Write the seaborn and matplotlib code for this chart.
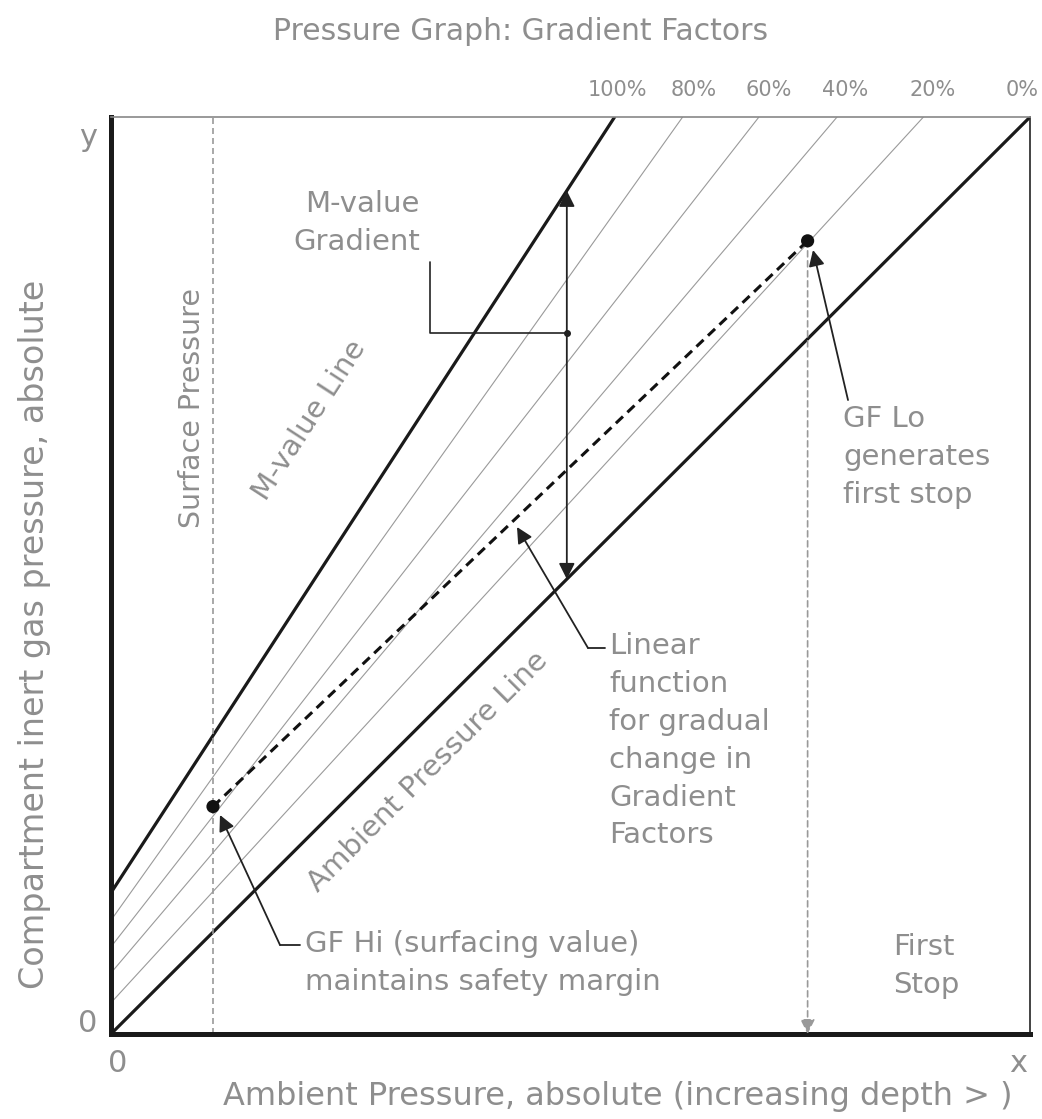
import numpy as np
import pandas as pd
import matplotlib
matplotlib.use("Agg")
import matplotlib.pyplot as plt
import seaborn as sns

# gradient factor lines: from (0, intercept) up to (top_x, 100)
gf_labels = ["100%", "80%", "60%", "40%", "20%", "0%"]
gf_intercepts = [15.4, 12.4, 9.5, 6.65, 3.4, 0.0]
gf_top_x = [54.8, 62.2, 70.5, 79.0, 88.4, 100.0]
# label nudges in pixels relative to the line's top end
gf_label_dx = [3, 11, 10, 8, 9, -8]

surface_x = 11.1
gf_hi = [11.1, 24.8]
gf_lo = [75.8, 86.5]
gradient_x = 49.6

sns.set_style("white")
plt.rcParams["font.family"] = ["DejaVu Sans"]
grey = "#8e8e8e"

fig = plt.figure(figsize=(10.42, 11.19), dpi=100)
ax = fig.add_axes([0.1065, 0.076, 0.882, 0.8194])
ax.set_xlim(0, 100)
ax.set_ylim(0, 100)
ax.set_xticks([])
ax.set_yticks([])


def line_y(i, x):
    return gf_intercepts[i] + x * (100 - gf_intercepts[i]) / gf_top_x[i]


# px -> data helpers for annotation placement
def dx(px):
    return (px - 111) / 9.19


def dy(py):
    return (1034 - py) / 9.17


lines = pd.DataFrame({
    "gf": np.repeat(gf_labels, 2),
    "x": np.ravel([[0, t] for t in gf_top_x]),
    "y": np.ravel([[b, 100] for b in gf_intercepts]),
})
for i, lab in enumerate(gf_labels):
    sub = lines[lines.gf == lab]
    heavy = lab in ("100%", "0%")
    sns.lineplot(data=sub, x="x", y="y", ax=ax, color="#1a1a1a" if heavy else "#9a9a9a",
                 lw=2.3 if heavy else 0.8, estimator=None, sort=False)
    ax.annotate(lab, (gf_top_x[i], 100), xytext=(gf_label_dx[i] * 0.72, 19.5),
                textcoords="offset points", ha="center", va="center", fontsize=15,
                color=grey, annotation_clip=False)

# surface pressure + first stop verticals
ax.axvline(surface_x, color="#999999", lw=1.2, ls=(0, (3.6, 2.4)))
ax.annotate("", xy=(gf_lo[0], 0), xytext=(gf_lo[0], gf_lo[1]),
            arrowprops=dict(arrowstyle="-|>", color="#999999", lw=1.2, ls=(0, (3.6, 2.4)),
                            mutation_scale=22, shrinkA=0, shrinkB=0))

# gf hi -> gf lo dashed
sns.lineplot(x=[gf_hi[0], gf_lo[0]], y=[gf_hi[1], gf_lo[1]], ax=ax, color="#111111",
             lw=2.2, ls=(0, (3.2, 2.0)), estimator=None, sort=False)
sns.scatterplot(x=[gf_hi[0], gf_lo[0]], y=[gf_hi[1], gf_lo[1]], ax=ax, color="#111111",
                s=90, edgecolor="none", zorder=5)

# m-value gradient double arrow
ax.annotate("", xy=(gradient_x, line_y(0, gradient_x)), xytext=(gradient_x, line_y(5, gradient_x)),
            arrowprops=dict(arrowstyle="<|-|>", color="#222222", lw=1.3, mutation_scale=24,
                            shrinkA=0, shrinkB=0))
ax.plot([dx(430), dx(430), gradient_x], [dy(262), dy(333), dy(333)], color="#222222", lw=1.2)
ax.plot([gradient_x], [dy(333)], "o", color="#222222", ms=4)

txt = dict(color=grey, fontsize=21, linespacing=1.45)
ax.text(dx(420), dy(190), "M-value\nGradient", ha="right", va="top", multialignment="right", **txt)

# arrows with connectors
arrow_kw = dict(arrowstyle="-|>", color="#222222", lw=1.3, mutation_scale=24, shrinkA=0, shrinkB=0)
ax.plot([dx(300), dx(280)], [dy(945), dy(945)], color="#222222", lw=1.3)
ax.annotate("", xy=(dx(220), dy(815)), xytext=(dx(280), dy(945)), arrowprops=arrow_kw)
ax.plot([dx(605), dx(588)], [dy(648), dy(648)], color="#222222", lw=1.3)
ax.annotate("", xy=(dx(517), dy(527)), xytext=(dx(588), dy(648)), arrowprops=arrow_kw)
ax.annotate("", xy=(dx(813), dy(250)), xytext=(dx(848), dy(400)), arrowprops=arrow_kw)

ax.text(dx(192), dy(408), "Surface Pressure", rotation=90, ha="center", va="center",
        **{**txt, "fontsize": 20.5})
ax.text(dx(310), dy(420), "M-value Line", rotation=57, ha="center", va="center",
        rotation_mode="anchor", **txt)
ax.text(dx(428), dy(772), "Ambient Pressure Line", rotation=45, ha="center", va="center",
        rotation_mode="anchor", **txt)
ax.text(dx(843), dy(405), "GF Lo\ngenerates\nfirst stop", ha="left", va="top", **txt)
ax.text(dx(609), dy(632), "Linear\nfunction\nfor gradual\nchange in\nGradient\nFactors",
        ha="left", va="top", **txt)
ax.text(dx(305), dy(930), "GF Hi (surfacing value)\nmaintains safety margin",
        ha="left", va="top", **txt)
ax.text(dx(893), dy(933), "First\nStop", ha="left", va="top", **txt)

lab = dict(ha="center", va="center", fontsize=22, color=grey)
fig.text(88 / 1042, 1 - 137 / 1119, "y", **lab)
fig.text(88 / 1042, 1 - 1024 / 1119, "0", **lab)
fig.text(118 / 1042, 1 - 1063 / 1119, "0", **lab)
fig.text(1018 / 1042, 1 - 1063 / 1119, "x", **lab)
fig.text(618 / 1042, 1 - 1097 / 1119, "Ambient Pressure, absolute (increasing depth > )",
         **{**lab, "fontsize": 23})
fig.text(35 / 1042, 1 - 634 / 1119, "Compartment inert gas pressure, absolute", rotation=90,
         **{**lab, "fontsize": 24})
fig.text(521 / 1042, 1 - 32 / 1119, "Pressure Graph: Gradient Factors", ha="center", va="center",
         fontsize=21.5, color=grey)

for side in ["left", "bottom"]:
    ax.spines[side].set_linewidth(3.6)
    ax.spines[side].set_color("#1a1a1a")
ax.spines["top"].set_linewidth(1.2)
ax.spines["top"].set_color("#888888")
ax.spines["right"].set_linewidth(1.2)
ax.spines["right"].set_color("#222222")
for s in ax.spines.values():
    s.set_visible(True)
ax.set_xlabel("")
ax.set_ylabel("")

fig.savefig("out.png", dpi=100)
